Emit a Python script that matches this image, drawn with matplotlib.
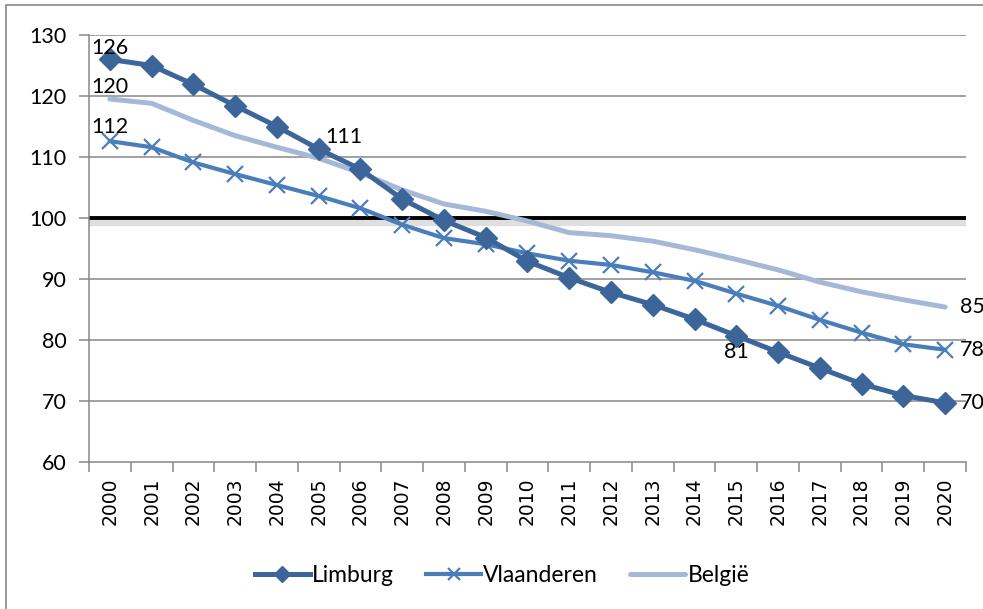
import matplotlib
matplotlib.use("Agg")
import matplotlib.pyplot as plt
import matplotlib.patheffects as pe
from matplotlib.patches import Rectangle

years = [str(y) for y in range(2000, 2021)]
limburg = [126.0, 125.0, 121.9, 118.4, 115.0, 111.3, 108.0, 103.1, 99.6, 96.8, 92.9,
           90.2, 87.8, 85.8, 83.4, 80.7, 78.0, 75.4, 72.8, 70.9, 69.7]
vlaanderen = [112.6, 111.6, 109.1, 107.2, 105.4, 103.6, 101.6, 98.9, 96.7, 95.7, 94.2,
              93.0, 92.3, 91.1, 89.7, 87.6, 85.6, 83.3, 81.2, 79.3, 78.4]
belgie = [119.5, 118.8, 116.0, 113.5, 111.6, 109.8, 107.4, 104.6, 102.3, 101.1, 99.5,
          97.6, 97.1, 96.2, 94.8, 93.2, 91.5, 89.5, 87.9, 86.6, 85.4]

plt.rcParams['font.family'] = ['Lato', 'DejaVu Sans']
fs = 15.5

fig = plt.figure(figsize=(9.83, 6.09), dpi=100)
ax = fig.add_axes([89/983, 1-462/609, (966-89)/983, (462-35)/609])

x = list(range(len(years)))

# gridlines
for v in range(70, 131, 10):
    if v == 100:
        continue
    ax.axhline(v, color="#878787", lw=1.1, zorder=1)

# reference line at 100 with a soft shadow
ax.axhline(100, color="black", lw=2.8, zorder=2,
           path_effects=[pe.SimpleLineShadow(offset=(0, -3), shadow_color="gray", alpha=0.25, linewidth=6),
                         pe.Normal()])

ax.plot(x, belgie, color="#A6B8D8", lw=3.6, solid_capstyle="round", zorder=3, label="België")
ax.plot(x, vlaanderen, color="#4A7EBB", lw=3.0, marker="x", markersize=11, markeredgewidth=1.6,
        zorder=4, label="Vlaanderen")
ax.plot(x, limburg, color="#3C6699", lw=3.6, marker="D", markersize=11.5, zorder=5, label="Limburg")

# data labels
ax.text(0, limburg[0] + 0.3, "126", fontsize=fs, ha="center", va="bottom", zorder=6)
ax.text(0, belgie[0] + 0.3, "120", fontsize=fs, ha="center", va="bottom", zorder=6)
ax.text(0, vlaanderen[0] + 0.6, "112", fontsize=fs, ha="center", va="bottom", zorder=6)
ax.text(5.15, limburg[5] + 0.4, "111", fontsize=fs, ha="left", va="bottom", zorder=6)
ax.text(15, limburg[15] - 1.0, "81", fontsize=fs, ha="center", va="top", zorder=6)
ax.text(20.35, belgie[-1], "85", fontsize=fs, ha="left", va="center", clip_on=False)
ax.text(20.35, vlaanderen[-1], "78", fontsize=fs, ha="left", va="center", clip_on=False)
ax.text(20.35, limburg[-1], "70", fontsize=fs, ha="left", va="center", clip_on=False)

ax.set_xlim(-0.5, len(years) - 0.5)
ax.set_ylim(60, 130)
ax.set_yticks(range(60, 131, 10))
ax.tick_params(axis="y", length=7, width=1.1, color="#878787", labelsize=fs, pad=9)
ax.set_xticks(x)
ax.set_xticklabels(years, rotation=90, fontsize=13.5, family="DejaVu Sans")
ax.set_xticks([i - 0.5 for i in range(len(years) + 1)], minor=True)
ax.tick_params(axis="x", which="major", length=0, pad=11)
ax.tick_params(axis="x", which="minor", length=7, width=1.1, color="#878787")

for s in ["top", "right"]:
    ax.spines[s].set_visible(False)
for s in ["left", "bottom"]:
    ax.spines[s].set_color("#878787")
    ax.spines[s].set_linewidth(1.1)

handles, labels = ax.get_legend_handles_labels()
order = [2, 1, 0]
leg = fig.legend([handles[i] for i in order], [labels[i] for i in order],
                 loc="center", bbox_to_anchor=(502/983, 1-576/609), ncol=3, frameon=False,
                 fontsize=16.5, handlelength=2.4, handletextpad=0.1, columnspacing=1.4,
                 markerscale=0.75)

fig.patches.append(Rectangle((6/983, -0.1), 1.2, 1.1 - 5/609, transform=fig.transFigure,
                             fill=False, edgecolor="#878787", lw=1.2))

fig.savefig("out.png", dpi=100)
